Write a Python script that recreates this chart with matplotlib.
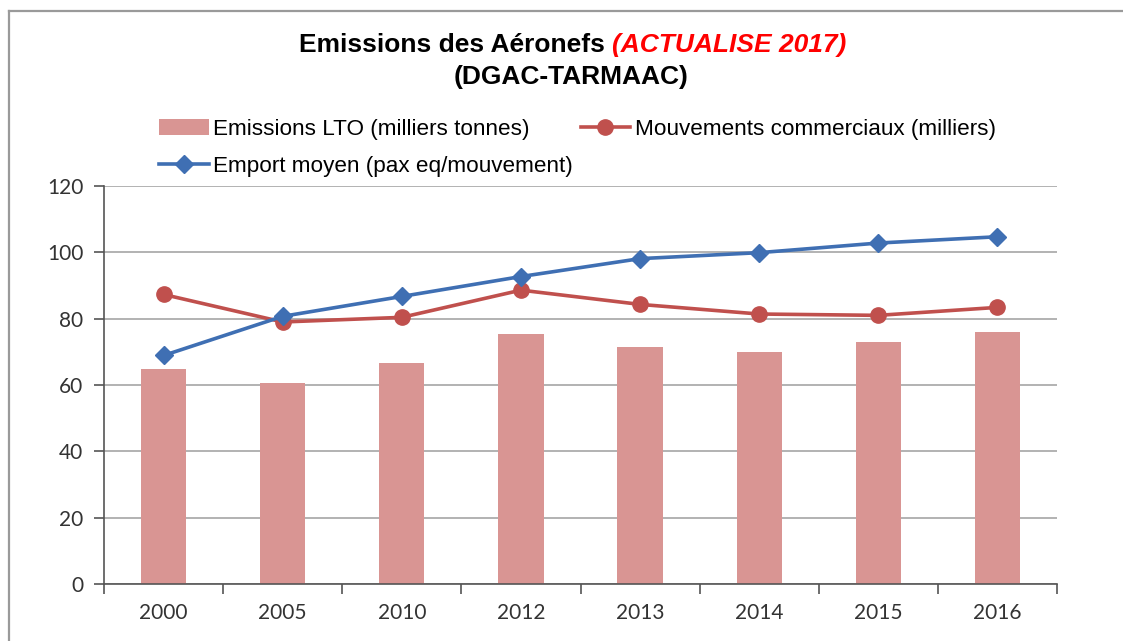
import numpy as np
import matplotlib
matplotlib.use("Agg")
import matplotlib.pyplot as plt
from matplotlib.lines import Line2D

years = ["2000", "2005", "2010", "2012", "2013", "2014", "2015", "2016"]
emissions_lto = [64.9, 60.7, 66.6, 75.5, 71.6, 69.9, 72.9, 76.1]
mouvements = [87.3, 79.0, 80.4, 88.6, 84.3, 81.4, 81.0, 83.4]
emport = [68.9, 80.7, 86.7, 92.7, 98.1, 99.9, 102.8, 104.7]

BAR_COLOR = "#d99593"
RED = "#c0504d"
BLUE = "#3f6fb3"
W, H = 1123, 641

fig = plt.figure(figsize=(W / 100, H / 100), dpi=100)
ax = fig.add_axes([104 / W, 1 - 584 / H, (1057 - 104) / W, (584 - 186) / H])

x = np.arange(len(years))
bars = ax.bar(x, emissions_lto, width=0.38, color=BAR_COLOR, zorder=2)
l_mouv, = ax.plot(x, mouvements, color=RED, lw=2.6, marker="o", ms=11, zorder=3)
l_emp, = ax.plot(x, emport, color=BLUE, lw=2.6, marker="D", ms=9.5, zorder=4)

ax.set_xlim(-0.5, len(years) - 0.5)
ax.set_ylim(0, 120)
ax.set_yticks(range(0, 121, 20))
ax.set_xticks(x)
ax.set_xticklabels(years)
ax.set_xticks(np.arange(-0.5, len(years)), minor=True)
ax.tick_params(axis="x", which="major", length=0, pad=14)
ax.tick_params(axis="x", which="minor", length=7, width=1.2, color="#555555", direction="out")
ax.tick_params(axis="y", length=7, width=1.2, color="#555555", pad=8)
for lab in ax.get_xticklabels() + ax.get_yticklabels():
    lab.set_fontfamily("Lato")
    lab.set_fontsize(15)
    lab.set_color("#333333")

ax.grid(axis="y", color="#a6a6a6", lw=1.2, zorder=0)
for side in ["top", "right"]:
    ax.spines[side].set_visible(False)
ax.spines["left"].set_color("#555555")
ax.spines["bottom"].set_color("#555555")
ax.spines["left"].set_linewidth(1.2)
ax.spines["bottom"].set_linewidth(1.2)

# title, two colours on the first line
t1 = fig.text(0, 1 - 45 / H, "Emissions des Aéronefs ", fontsize=19, fontweight="bold",
              family="Liberation Sans", va="center", ha="left")
t2 = fig.text(0, 1 - 45 / H, "(ACTUALISE 2017)", fontsize=19, fontweight="bold",
              style="italic", color="#ff0000", family="Liberation Sans", va="center", ha="left")
fig.canvas.draw()
r = fig.canvas.get_renderer()
w1 = t1.get_window_extent(r).width
w2 = t2.get_window_extent(r).width
start = 573 - (w1 + w2) / 2
t1.set_x(start / W)
t2.set_x((start + w1) / W)
fig.text(571 / W, 1 - 77 / H, "(DGAC-TARMAAC)", fontsize=19, fontweight="bold",
         family="Liberation Sans", va="center", ha="center")

# column-major fill: bar + emport in column 1, mouvements in column 2
fig.legend([bars, l_emp, l_mouv],
           ["Emissions LTO (milliers tonnes)", "Emport moyen (pax eq/mouvement)",
            "Mouvements commerciaux (milliers)"],
           loc="upper left", bbox_to_anchor=(150 / W, 1 - 110 / H), ncol=2,
           frameon=False, prop={"family": "Liberation Sans", "size": 16.2},
           handlelength=2.2, handletextpad=0.2, columnspacing=0.35,
           labelspacing=0.7, borderaxespad=0)

# chart frame (left and top edges)
fig.add_artist(Line2D([9 / W, 9 / W], [0, 1 - 11 / H], color="#9a9a9a", lw=1.6))
fig.add_artist(Line2D([9 / W, 1], [1 - 11 / H, 1 - 11 / H], color="#9a9a9a", lw=1.6))

fig.savefig("out.png", dpi=100, facecolor="white")
